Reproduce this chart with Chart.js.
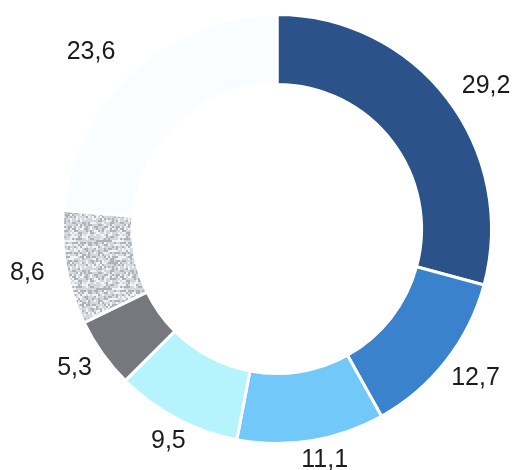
<!DOCTYPE html>
<html>
<head>
<meta charset="utf-8">
<script src="https://cdn.jsdelivr.net/npm/chart.js@4/dist/chart.umd.min.js"></script>
<style>
    html, body { margin: 0; padding: 0; background: #fff; }
    #wrap { width: 514px; height: 470px; }
</style>
</head>
<body>
<div id="wrap"><canvas id="donut" width="514" height="470"></canvas></div>
<script>
// values (clockwise from 12 o'clock)
var shares = [29.2, 12.7, 11.1, 9.5, 5.3, 8.6, 23.6];
var shareLabels = ['29,2', '12,7', '11,1', '9,5', '5,3', '8,6', '23,6'];

// speckled grey texture for the 8,6 piece
function speckle() {
    var c = document.createElement('canvas');
    c.width = 48;
    c.height = 48;
    var g = c.getContext('2d');
    g.fillStyle = '#d4d7dc';
    g.fillRect(0, 0, 48, 48);
    for (var y = 0; y < 48; y += 2) {
        for (var x = 0; x < 48; x += 2) {
            var h = ((x * 73856093) ^ (y * 19349663)) >>> 0;
            h = (h % 97);
            if (h < 30) g.fillStyle = '#aeb2b9';
            else if (h < 55) g.fillStyle = '#f2f3f5';
            else continue;
            g.fillRect(x, y, 2, 2);
        }
    }
    return g.createPattern(c, 'repeat');
}

var colors = ['#2b5389', '#3a82cc', '#72c8f8', '#b5f3fd', '#76787e', speckle(), '#fafdff'];

// labels sit outside the ring, nudged a little like in the print
var outsideLabels = {
    id: 'outsideLabels',
    afterDatasetsDraw: function(chart, args, opts) {
        var ctx = chart.ctx;
        var arcs = chart.getDatasetMeta(0).data;
        ctx.save();
        ctx.font = opts.size + 'px "Liberation Sans", Arial, sans-serif';
        ctx.fillStyle = '#1c1c1c';
        ctx.textAlign = 'center';
        ctx.textBaseline = 'middle';
        arcs.forEach(function(arc, i) {
            var p = arc.getProps(['x', 'y', 'startAngle', 'endAngle', 'outerRadius'], true);
            var a = (p.startAngle + p.endAngle) / 2 + opts.shift[i] * Math.PI / 180;
            var r = p.outerRadius + opts.gap[i];
            ctx.fillText(shareLabels[i], p.x + Math.cos(a) * r, p.y + Math.sin(a) * r);
        });
        ctx.restore();
    }
};

new Chart(document.getElementById('donut'), {
    type: 'doughnut',
    data: {
        labels: shareLabels,
        datasets: [{
            data: shares,
            backgroundColor: colors,
            borderColor: '#ffffff',
            borderWidth: 3
        }]
    },
    options: {
        responsive: false,
        animation: false,
        cutout: '67.4%',
        layout: { padding: { left: 61, right: 21, top: 13, bottom: 25 } },
        plugins: {
            legend: { display: false },
            tooltip: { enabled: false },
            outsideLabels: {
                size: 25,
                shift: [3, -1, -2.5, -0.8, 1, 0.4, -4],
                gap: [39, 34, 21, 24, 31, 39, 42]
            }
        }
    },
    plugins: [outsideLabels]
});
</script>
</body>
</html>
